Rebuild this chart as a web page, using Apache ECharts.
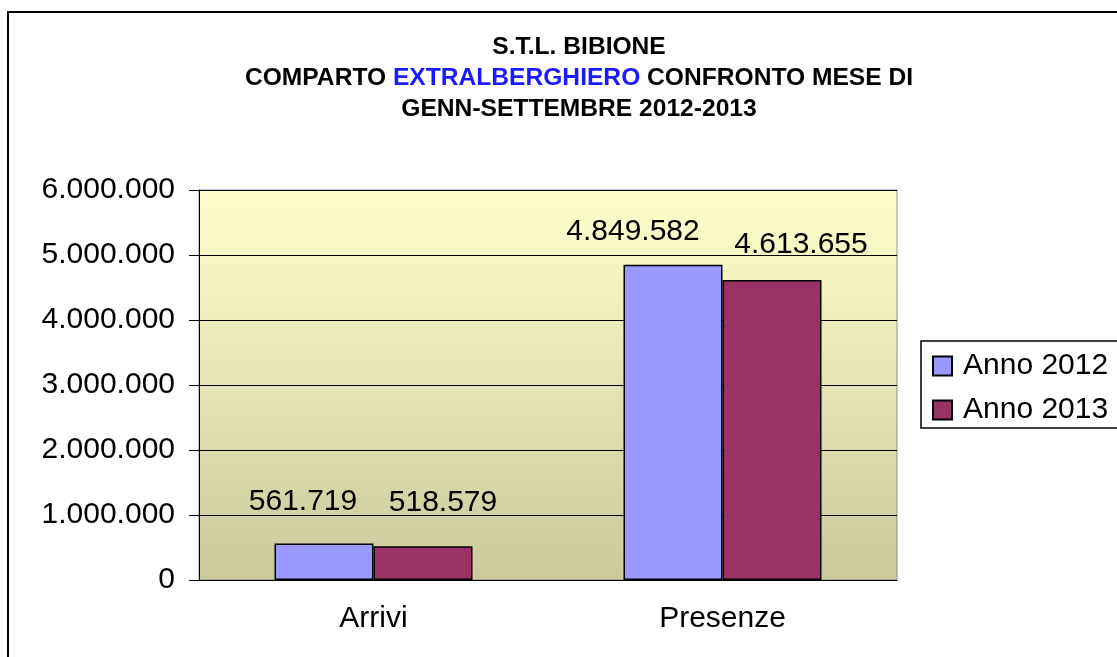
<!DOCTYPE html>
<html>
<head>
<meta charset="utf-8">
<script src="https://cdn.jsdelivr.net/npm/echarts@6/dist/echarts.min.js"></script>
<style>
  html, body { margin: 0; padding: 0; background: #fff; }
  #chart { width: 1117px; height: 657px; }
</style>
</head>
<body>
<div id="chart"></div>
<script>
const categories = ['Arrivi', 'Presenze']
const anno2012 = [561719, 4849582]
const anno2013 = [518579, 4613655]
const seriesNames = ['Anno 2012', 'Anno 2013']
const yTicks = [0, 1000000, 2000000, 3000000, 4000000, 5000000, 6000000]

// label nudges, copied from where the picture puts them
const labelOffsets2012 = [[-21, -9], [-40, 0]]
const labelOffsets2013 = [[20, -11], [29, -2]]

const font = '"Liberation Sans", Arial, sans-serif'

function fmt(v) {
  return String(v).replace(/\B(?=(\d{3})+(?!\d))/g, '.')
}

function makeSeries(name, values, offsets, color) {
  return {
    name, type: 'bar', barWidth: 99, barGap: 0,
    itemStyle: { color, borderColor: '#000', borderWidth: 1.5 },
    data: values.map((v, i) => ({
      value: v,
      label: { offset: offsets[i] }
    })),
    label: {
      show: true, position: 'top', distance: 18,
      formatter: p => fmt(p.value),
      fontFamily: font, fontSize: 30, color: '#000'
    }
  }
}

const chart = echarts.init(document.getElementById('chart'))
chart.setOption({
  animation: false,
  title: {
    text: 'S.T.L. BIBIONE\nCOMPARTO {b|EXTRALBERGHIERO} CONFRONTO MESE DI\nGENN-SETTEMBRE 2012-2013',
    left: 574, top: 27, textAlign: 'center',
    textStyle: {
      fontFamily: font, fontSize: 24.6, fontWeight: 'bold', color: '#000', lineHeight: 31,
      rich: { b: { color: '#1a1aff', fontFamily: font, fontSize: 24.6, fontWeight: 'bold', lineHeight: 31 } }
    }
  },
  graphic: [
    { type: 'rect', shape: { x: 8, y: 12, width: 1200, height: 700 },
      style: { fill: 'none', stroke: '#000', lineWidth: 2 }, z: 100 },
    { type: 'rect', shape: { x: 921, y: 341, width: 300, height: 87 },
      style: { fill: '#fff', stroke: '#000', lineWidth: 1.5 }, z: 0 }
  ],
  legend: {
    orient: 'vertical', left: 927, top: 346,
    itemWidth: 19, itemHeight: 19, itemGap: 14,
    icon: 'rect',
    textStyle: { fontFamily: font, fontSize: 30, color: '#000', padding: [0, 0, 0, 6] },
    data: seriesNames, z: 10
  },
  grid: {
    left: 199, top: 190, width: 698, height: 390,
    show: true, borderColor: '#8c8c8c', borderWidth: 1,
    backgroundColor: new echarts.graphic.LinearGradient(0, 0, 0, 1, [
      { offset: 0, color: '#ffffcc' }, { offset: 1, color: '#c9c99c' }
    ])
  },
  xAxis: {
    type: 'category', data: categories,
    axisLine: { lineStyle: { color: '#000', width: 1 } },
    axisTick: { length: 9, lineStyle: { color: '#000' } },
    axisLabel: { fontFamily: font, fontSize: 30, color: '#000', margin: 24 }
  },
  yAxis: {
    type: 'value', min: yTicks[0], max: yTicks[yTicks.length - 1], interval: yTicks[1] - yTicks[0],
    axisLine: { show: true, lineStyle: { color: '#000', width: 1 } },
    axisTick: { show: true, length: 10, lineStyle: { color: '#000' } },
    splitLine: { lineStyle: { color: '#000', width: 1 } },
    axisLabel: { fontFamily: font, fontSize: 30, color: '#000', margin: 24, formatter: v => fmt(v) }
  },
  series: [
    makeSeries(seriesNames[0], anno2012, labelOffsets2012, '#9999ff'),
    makeSeries(seriesNames[1], anno2013, labelOffsets2013, '#993366')
  ]
})
</script>
</body>
</html>
